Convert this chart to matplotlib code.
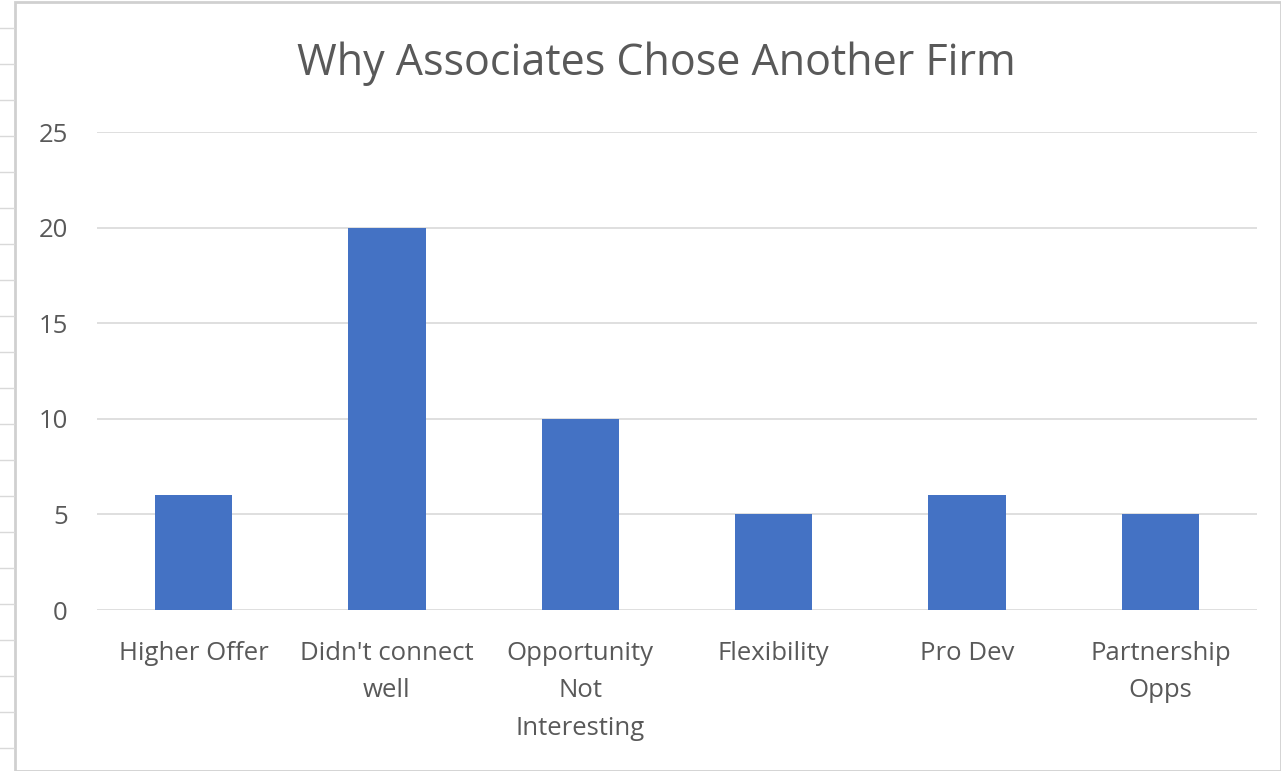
import matplotlib
matplotlib.use("Agg")
import matplotlib.pyplot as plt
from matplotlib.patches import Rectangle
from matplotlib.lines import Line2D

# data
reasons = ["Higher Offer", "Didn't connect\nwell", "Opportunity\nNot\nInteresting",
           "Flexibility", "Pro Dev", "Partnership\nOpps"]
counts = [6, 20, 10, 5, 6, 5]
yticks = [0, 5, 10, 15, 20, 25]

plt.rcParams['font.family'] = ['Open Sans', 'DejaVu Sans']

fig = plt.figure(figsize=(12.81, 7.71), dpi=100)
ax = fig.add_axes([97 / 1281, 1 - 610 / 771, 1160 / 1281, 478 / 771])

x = list(range(len(reasons)))
ax.bar(x, counts, width=0.4, color='#4472C4', zorder=3)

ax.set_xlim(-0.5, len(reasons) - 0.5)
ax.set_ylim(0, 25)
ax.set_yticks(yticks)
ax.set_xticks(x)
ax.set_xticklabels(reasons, linespacing=1.66)
ax.yaxis.grid(True, color='#d9d9d9', linewidth=1.2, zorder=0)
ax.tick_params(axis='both', length=0, colors='#595959', labelsize=18.5)
ax.tick_params(axis='y', pad=21)
ax.tick_params(axis='x', pad=22)
for s in ax.spines.values():
    s.set_visible(False)

fig.text(656 / 1281, 1 - 64 / 771, "Why Associates Chose Another Firm",
         ha='center', va='center', fontsize=31, color='#595959')

# chart frame and the sheet cells peeking out on the left
fig.patches.append(Rectangle((15 / 1281, 0), 1 - 15 / 1281 - 0.5 / 1281, 1 - 2 / 771,
                             transform=fig.transFigure, fill=False,
                             edgecolor='#d0d0d0', linewidth=2))
for yy in range(28, 771, 36):
    fig.lines.append(Line2D([0, 14 / 1281], [1 - yy / 771, 1 - yy / 771],
                            transform=fig.transFigure, color='#d9d9d9', linewidth=1))

fig.savefig("out.png", dpi=100, facecolor='white')
